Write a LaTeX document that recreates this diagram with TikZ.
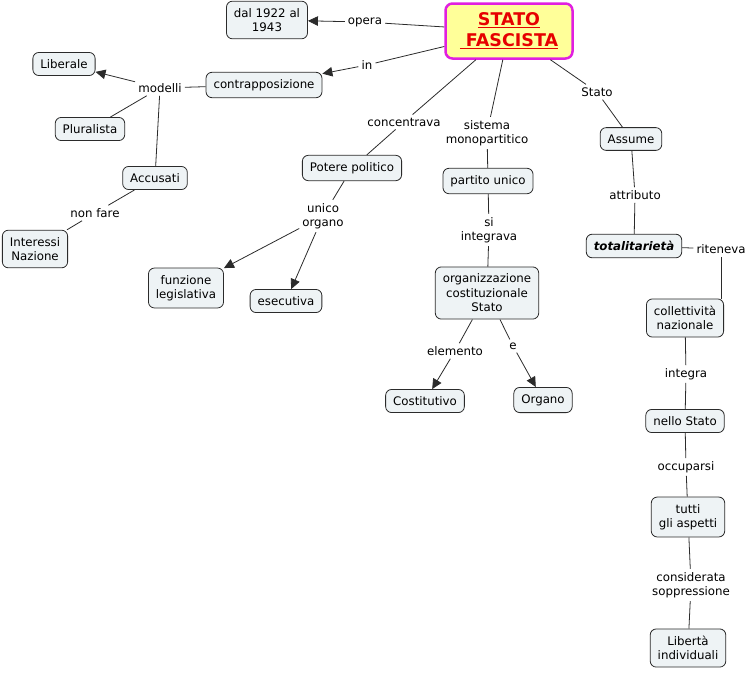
\documentclass[tikz,border=0pt]{standalone}
\usepackage{fontspec}
\setmainfont{DejaVu Sans}
\usetikzlibrary{arrows.meta}
\definecolor{sfondo}{HTML}{EEF3F5}
\definecolor{bordo}{HTML}{2B2B2B}
\definecolor{rosso}{HTML}{E60000}
\definecolor{viola}{HTML}{E020E0}
\definecolor{giallo}{HTML}{FFFF99}

\begin{document}
\begin{tikzpicture}[x=1pt,y=-1pt,
	font=\fontsize{11.8}{14.5}\selectfont,
	concetto/.style={draw=bordo,fill=sfondo,rounded corners=6pt,line width=0.8pt,inner xsep=7.5pt,inner ysep=7pt,align=center},
	titolo/.style={draw=viola,fill=giallo,line width=2.5pt,rounded corners=7pt,minimum width=127pt,minimum height=55pt,align=center,text=rosso,font=\fontsize{17.5}{21}\selectfont\bfseries},
	etichetta/.style={inner sep=3pt,align=center},
	linea/.style={draw=bordo,line width=0.8pt},
	freccia/.style={linea,-{Triangle[length=10pt,width=9.5pt]}}]

	\useasboundingbox (0,0) rectangle (751,672);

	% Concetti
	\node[titolo] (stato) at (509,31) {\underline{STATO}\\\underline{\ FASCISTA}};
	\node[concetto] (dal) at (267,20) {dal 1922 al\\1943};
	\node[concetto] (contra) at (264,85) {contrapposizione};
	\node[concetto] (liberale) at (64,64) {Liberale};
	\node[concetto] (pluralista) at (90,129) {Pluralista};
	\node[concetto] (accusati) at (155,178) {Accusati};
	\node[concetto] (interessi) at (35,249) {Interessi\\Nazione};
	\node[concetto] (potere) at (352,168) {Potere politico};
	\node[concetto] (funzione) at (186,288) {funzione\\legislativa};
	\node[concetto] (esecutiva) at (286,301) {esecutiva};
	\node[concetto] (partito) at (488,181) {partito unico};
	\node[concetto] (organiz) at (487,293) {organizzazione\\costituzionale\\Stato};
	\node[concetto] (costit) at (425,401) {Costitutivo};
	\node[concetto] (organo) at (543,400) {Organo};
	\node[concetto] (assume) at (631,139) {Assume};
	\node[concetto,font=\fontsize{11.8}{14.5}\selectfont\bfseries\itshape] (totali) at (634,246) {totalitarietà};
	\node[concetto] (collett) at (685,318) {collettività\\nazionale};
	\node[concetto] (nello) at (685,421) {nello Stato};
	\node[concetto] (tutti) at (688,517) {tutti\\gli aspetti};
	\node[concetto] (liberta) at (688,648) {Libertà\\individuali};

	% Etichette
	\node[etichetta] (lopera) at (365,22) {opera};
	\node[etichetta] (lin) at (367,65) {in};
	\node[etichetta] (lmodelli) at (160,88) {modelli};
	\node[etichetta] (lnonfare) at (95,213) {non fare};
	\node[etichetta] (lconcentrava) at (404,122) {concentrava};
	\node[etichetta] (lsistema) at (487,133) {sistema\\monopartitico};
	\node[etichetta] (lstato) at (597,92) {Stato};
	\node[etichetta] (lunico) at (323,216) {unico\\organo};
	\node[etichetta] (lsi) at (489,230) {si\\integrava};
	\node[etichetta] (lattributo) at (635,195) {attributo};
	\node[etichetta] (lriteneva) at (721,249) {riteneva};
	\node[etichetta] (lelemento) at (455,351) {elemento};
	\node[etichetta] (le) at (513,346) {e};
	\node[etichetta] (lintegra) at (686,374) {integra};
	\node[etichetta] (loccuparsi) at (686,467) {occuparsi};
	\node[etichetta] (lconsiderata) at (691,585) {considerata\\soppressione};

	% Collegamenti
	\draw[linea] (stato) -- (lopera);
	\draw[freccia] (lopera) -- (dal);
	\draw[linea] (stato) -- (lin);
	\draw[freccia] (lin) -- (contra);
	\draw[linea] (contra) -- (lmodelli);
	\draw[freccia] (lmodelli) -- (liberale);
	\draw[linea] (lmodelli) -- (pluralista);
	\draw[linea] (lmodelli) -- (accusati);
	\draw[linea] (accusati) -- (lnonfare);
	\draw[linea] (lnonfare) -- (interessi);

	\draw[linea] (stato) -- (lconcentrava);
	\draw[linea] (lconcentrava) -- (potere);
	\draw[linea] (potere) -- (lunico);
	\draw[freccia] (lunico) -- (funzione);
	\draw[freccia] (lunico) -- (esecutiva);

	\draw[linea] (stato) -- (lsistema);
	\draw[linea] (lsistema) -- (partito);
	\draw[linea] (partito) -- (lsi);
	\draw[linea] (lsi) -- (organiz);
	\draw[linea] (organiz) -- (lelemento);
	\draw[freccia] (lelemento) -- (costit);
	\draw[linea] (organiz) -- (le);
	\draw[freccia] (le) -- (organo);

	\draw[linea] (stato) -- (lstato);
	\draw[linea] (lstato) -- (assume);
	\draw[linea] (assume) -- (lattributo);
	\draw[linea] (lattributo) -- (totali);
	\draw[linea] (totali) -- (lriteneva);
	\draw[linea] (lriteneva) -- (lriteneva |- collett.north);
	\draw[linea] (collett) -- (lintegra);
	\draw[linea] (lintegra) -- (nello);
	\draw[linea] (nello) -- (loccuparsi);
	\draw[linea] (loccuparsi) -- (tutti);
	\draw[linea] (tutti) -- (lconsiderata);
	\draw[linea] (lconsiderata) -- (liberta);

\end{tikzpicture}
\end{document}
